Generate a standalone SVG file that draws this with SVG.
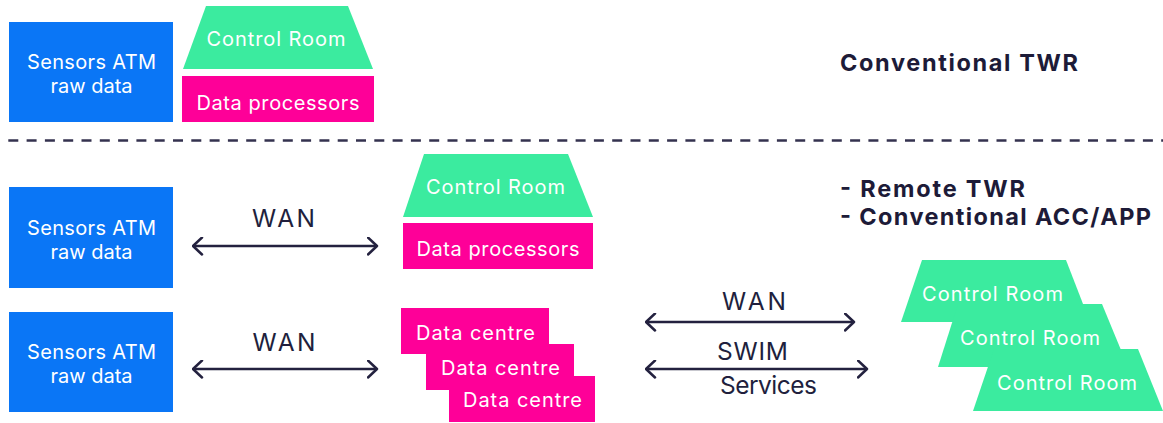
<svg xmlns="http://www.w3.org/2000/svg" width="1163" height="423" viewBox="0 0 1163 423">
  <style>
    .sensor { fill: #0a76f6; }
    .room { fill: #3beb9f; }
    .proc { fill: #fe0098; }
    .lbl { font-family: Inter, "Open Sans", "Liberation Sans", sans-serif; font-size: 20px; fill: #ffffff; text-anchor: middle; }
    .link { font-family: Inter, "Open Sans", "Liberation Sans", sans-serif; font-size: 24.5px; fill: #211f3d; text-anchor: middle; }
    .head { font-family: Inter, "Open Sans", "Liberation Sans", sans-serif; font-size: 23.5px; font-weight: 700; fill: #1d1b38; }
    .wire { stroke: #23213f; stroke-width: 2.5; fill: none; marker-start: url(#chev); marker-end: url(#chev); }
    .divider { stroke: #34324f; stroke-width: 2.5; stroke-dasharray: 10 8.3; fill: none; }
  </style>
  <defs>
    <marker id="chev" viewBox="-1 -1 12 19" refX="9.5" refY="8.5" markerWidth="12" markerHeight="19" markerUnits="userSpaceOnUse" orient="auto-start-reverse">
      <path d="M0.5,0 L9.5,8.5 L0.5,17" fill="none" stroke="#23213f" stroke-width="2.5" stroke-linecap="round" stroke-linejoin="round"/>
    </marker>
  </defs>

  <rect width="1163" height="423" fill="#ffffff"/>

  <!-- section divider -->
  <g id="divider">
    <line class="divider" x1="8.3" y1="140.5" x2="1163" y2="140.5"/>
  </g>

  <!-- conventional tower -->
  <g id="sensors-1">
    <rect class="sensor" x="9" y="22" width="164" height="100"/>
    <text class="lbl" x="91.5" y="69" textLength="129" lengthAdjust="spacing">Sensors ATM</text>
    <text class="lbl" x="91.5" y="93" textLength="82" lengthAdjust="spacing">raw data</text>
  </g>
  <g id="control-room-1">
    <polygon class="room" points="206,6 348,6 373,69 183,69"/>
    <text class="lbl" x="276" y="46" textLength="139" lengthAdjust="spacing">Control Room</text>
  </g>
  <g id="data-processors-1">
    <rect class="proc" x="182" y="76" width="192" height="46"/>
    <text class="lbl" x="278" y="110" textLength="163" lengthAdjust="spacing">Data processors</text>
  </g>
  <g id="title-conventional">
    <text class="head" x="840" y="71" textLength="238" lengthAdjust="spacing">Conventional TWR</text>
  </g>

  <!-- remote tower / ACC-APP -->
  <g id="sensors-2">
    <rect class="sensor" x="9" y="187" width="164" height="101"/>
    <text class="lbl" x="91.5" y="235" textLength="129" lengthAdjust="spacing">Sensors ATM</text>
    <text class="lbl" x="91.5" y="259" textLength="82" lengthAdjust="spacing">raw data</text>
  </g>
  <g id="control-room-2">
    <polygon class="room" points="424,154 568,154 593,217 403,217"/>
    <text class="lbl" x="495.5" y="194" textLength="139" lengthAdjust="spacing">Control Room</text>
  </g>
  <g id="data-processors-2">
    <rect class="proc" x="403" y="223" width="190" height="46"/>
    <text class="lbl" x="498" y="256" textLength="163" lengthAdjust="spacing">Data processors</text>
  </g>
  <g id="title-remote">
    <text class="head" x="840" y="197" textLength="185" lengthAdjust="spacing">- Remote TWR</text>
    <text class="head" x="840" y="225" textLength="311" lengthAdjust="spacing">- Conventional ACC/APP</text>
  </g>

  <!-- distributed data centres -->
  <g id="sensors-3">
    <rect class="sensor" x="9" y="312" width="164" height="100"/>
    <text class="lbl" x="91.5" y="359" textLength="129" lengthAdjust="spacing">Sensors ATM</text>
    <text class="lbl" x="91.5" y="383" textLength="82" lengthAdjust="spacing">raw data</text>
  </g>
  <g id="data-centre-1">
    <rect class="proc" x="401" y="308" width="148" height="46"/>
    <text class="lbl" x="475.5" y="340" textLength="119" lengthAdjust="spacing">Data centre</text>
  </g>
  <g id="data-centre-2">
    <rect class="proc" x="426" y="344" width="148" height="46"/>
    <text class="lbl" x="500.5" y="375" textLength="119" lengthAdjust="spacing">Data centre</text>
  </g>
  <g id="data-centre-3">
    <rect class="proc" x="449" y="376" width="146" height="46"/>
    <text class="lbl" x="522.5" y="407" textLength="119" lengthAdjust="spacing">Data centre</text>
  </g>
  <g id="control-room-3a">
    <polygon class="room" points="922,260 1066,260 1090,322 901,322"/>
    <text class="lbl" x="992.5" y="301" textLength="141" lengthAdjust="spacing">Control Room</text>
  </g>
  <g id="control-room-3b">
    <polygon class="room" points="958,304 1102,304 1128,367 938,367"/>
    <text class="lbl" x="1030" y="345" textLength="140" lengthAdjust="spacing">Control Room</text>
  </g>
  <g id="control-room-3c">
    <polygon class="room" points="994,349 1138,349 1163,411 973,411"/>
    <text class="lbl" x="1067" y="390" textLength="140" lengthAdjust="spacing">Control Room</text>
  </g>

  <!-- links -->
  <g id="connectors">
    <line class="wire" x1="193" y1="246" x2="377" y2="246"/>
    <text class="link" x="283.5" y="227" textLength="63" lengthAdjust="spacing">WAN</text>

    <line class="wire" x1="193" y1="369" x2="377" y2="369"/>
    <text class="link" x="284" y="351" textLength="63" lengthAdjust="spacing">WAN</text>

    <line class="wire" x1="646" y1="322" x2="854" y2="322"/>
    <text class="link" x="754" y="310" textLength="64" lengthAdjust="spacing">WAN</text>

    <line class="wire" x1="646" y1="369" x2="867" y2="369"/>
    <text class="link" x="752.5" y="360" textLength="71" lengthAdjust="spacing">SWIM</text>
    <text class="link" x="768.5" y="394" textLength="97" lengthAdjust="spacing">Services</text>
  </g>
</svg>
